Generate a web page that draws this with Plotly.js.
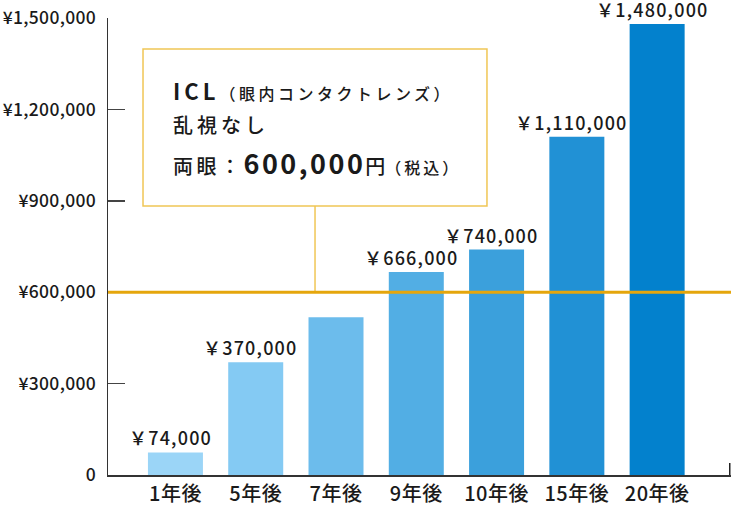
<!DOCTYPE html>
<html><head><meta charset="utf-8">
<script src="https://cdn.plot.ly/plotly-3.0.1.min.js"></script>
<style>body{margin:0;background:#fff}</style>
</head><body>
<div id="chart" style="width:731px;height:506px"></div>
<script>
const categories = ['1年後','5年後','7年後','9年後','10年後','15年後','20年後'];
const costs = [74000, 370000, 518000, 666000, 740000, 1110000, 1480000];
const barLabels = ['￥74,000','￥370,000','','￥666,000','￥740,000','￥1,110,000','￥1,480,000'];
const barColors = ['#9bd5f7','#84caf3','#6cbcec','#52aee4','#3ba0dc','#2191d5','#0381cd'];
const yTickVals = [0, 300000, 600000, 900000, 1200000, 1500000];
const yTickText = ['0','¥300,000','¥600,000','¥900,000','¥1,200,000','¥1,500,000'];
const iclPrice = 600000;
const boxLines = [
  '<b><span style="letter-spacing:4px">ICL</span></b><span style="font-size:16px;letter-spacing:3.5px">（眼内コンタクトレンズ）</span>',
  '<span style="letter-spacing:4px">乱視なし</span>',
  '<span style="letter-spacing:3.5px">両眼：</span><b><span style="font-size:27px;letter-spacing:2.5px">600,000</span></b>円<span style="font-size:16px;letter-spacing:3px">（税込）</span>'
];

const FONT = '"Noto Sans CJK JP", "Noto Sans", sans-serif';
const TXT = '#1a1a1a';
const gold = '#e5a60c';
const lightGold = '#f0c655';
const sp = (s, px) => s ? '<span style="letter-spacing:' + px + 'px">' + s + '</span>' : '';

const trace = {
  type: 'bar',
  x: categories,
  y: costs,
  marker: {color: barColors, line: {width: 0}},
  width: 0.685,
  hoverinfo: 'skip'
};

const annotations = categories.map((c, i) => ({
  x: c, y: costs[i], xref: 'x', yref: 'y',
  text: sp(barLabels[i], 1.2), showarrow: false,
  yanchor: 'bottom', yshift: 0, xshift: -5,
  font: {family: FONT, size: 18, color: TXT, weight: 500}
}));

const lineY = [0.8425, 0.7659, 0.6849];
const lineSize = [22, 20, 20];
boxLines.forEach((t, i) => {
  annotations.push({
    xref: 'paper', yref: 'paper', x: 0.1011, y: lineY[i],
    xanchor: 'left', yanchor: 'middle', showarrow: false, text: t,
    font: {family: FONT, size: lineSize[i], color: TXT, weight: 500}
  });
});

const layout = {
  width: 731, height: 506,
  margin: {l: 108, r: 0, t: 18, b: 31},
  paper_bgcolor: '#fff', plot_bgcolor: '#fff',
  showlegend: false,
  font: {family: FONT, color: TXT},
  xaxis: {
    type: 'category', range: [-0.84, 6.92],
    showline: true, linecolor: '#333', linewidth: 2,
    ticks: '', showgrid: false, zeroline: false,
    tickvals: categories, ticktext: categories.map(c => sp(c, 0.5)),
    tickfont: {family: FONT, size: 20, color: TXT, weight: 500},
    ticklabelstandoff: 0, fixedrange: true
  },
  yaxis: {
    range: [0, 1500000],
    tickvals: yTickVals, ticktext: yTickText.map(t => sp(t, 0.3)),
    showline: true, linecolor: '#333', linewidth: 1.5,
    ticks: 'inside', ticklen: 17, tickwidth: 1.5, tickcolor: '#444',
    showgrid: false, zeroline: false,
    tickfont: {family: FONT, size: 17.5, color: TXT, weight: 500},
    ticklabelstandoff: 7, fixedrange: true
  },
  shapes: [
    {type: 'rect', xref: 'paper', yref: 'paper', x0: 0.0562, x1: 0.6083, y0: 0.5886, y1: 0.9322,
     line: {color: lightGold, width: 1.5}, fillcolor: 'rgba(255,255,255,0)', layer: 'above'},
    {type: 'line', xref: 'paper', yref: 'y', x0: 0.3323, x1: 0.3323, y0: iclPrice, y1: 882900,
     line: {color: lightGold, width: 1.5}, layer: 'above'},
    {type: 'line', xref: 'paper', yref: 'y', x0: 0, x1: 1, y0: iclPrice, y1: iclPrice,
     line: {color: gold, width: 3}, layer: 'above'},
    {type: 'line', xref: 'paper', yref: 'paper', x0: 0.998, x1: 0.998, y0: 0, y1: 0.026,
     line: {color: '#222', width: 1.5}, layer: 'above'}
  ],
  annotations: annotations
};

Plotly.newPlot('chart', [trace], layout, {staticPlot: true, displayModeBar: false});
</script>
</body></html>
